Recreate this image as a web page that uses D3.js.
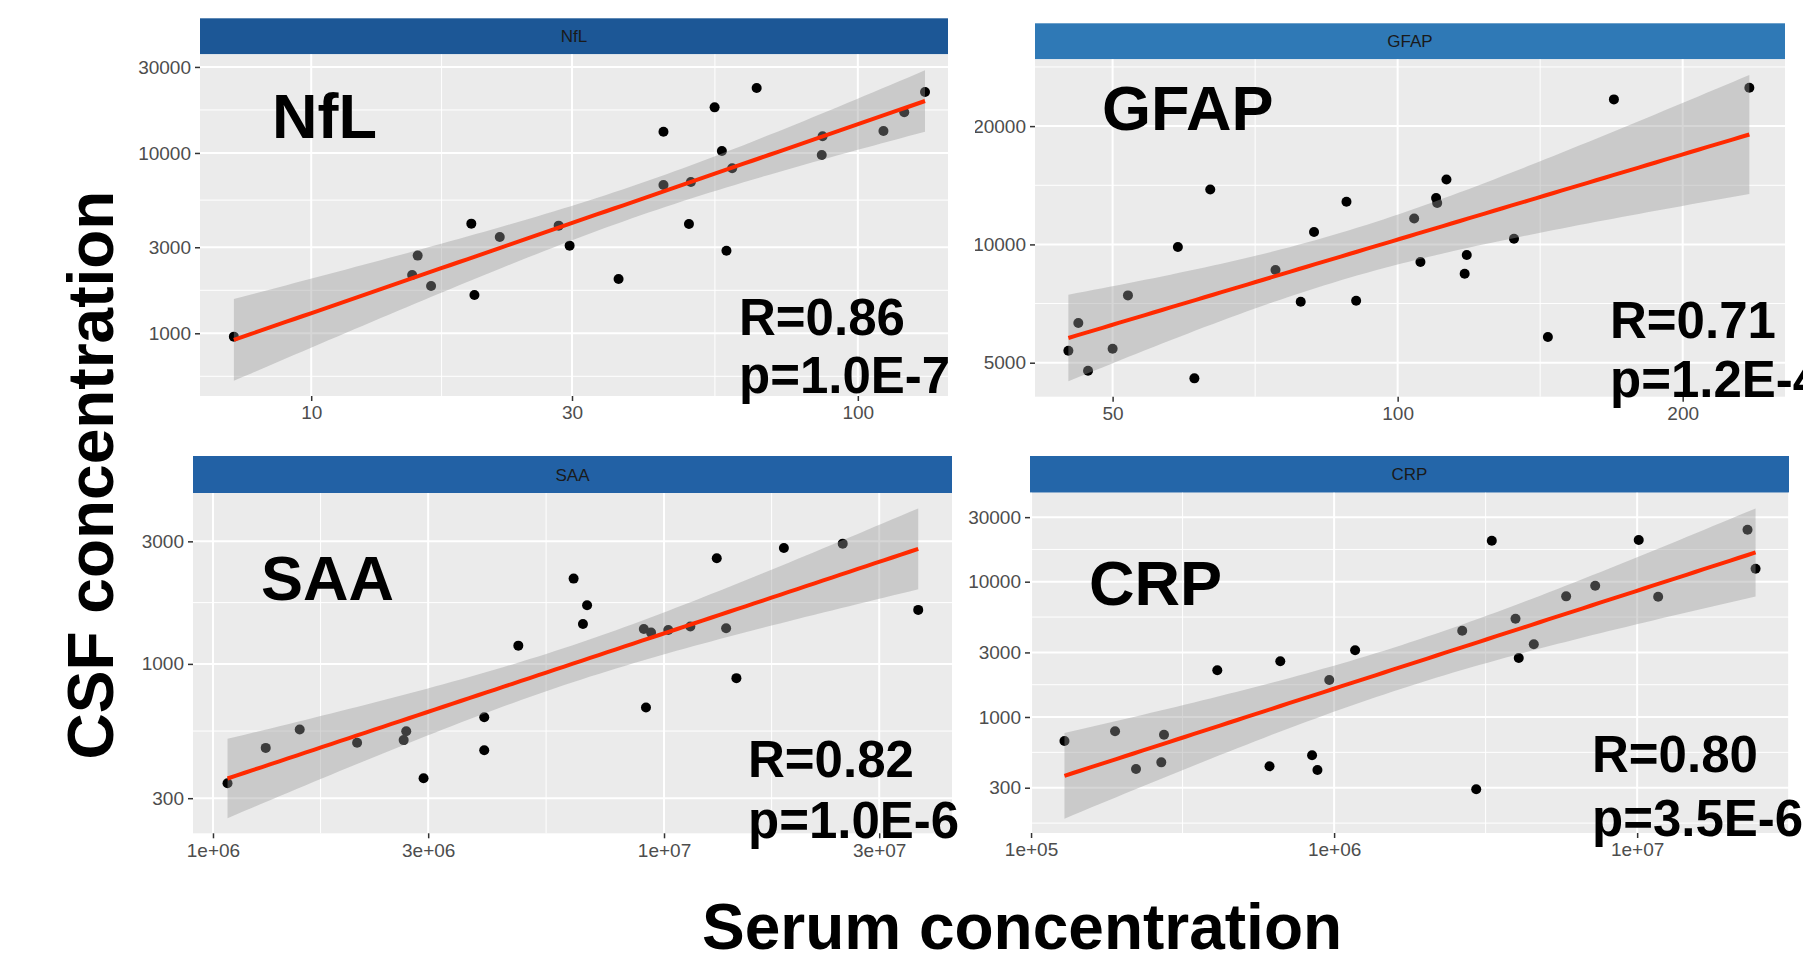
<!DOCTYPE html>
<html>
<head>
<meta charset="utf-8">
<script src="https://cdn.jsdelivr.net/npm/d3@7"></script>
<style>
  body { margin: 0; background: #fff; }
  svg { display: block; font-family: "Liberation Sans", Arial, sans-serif; }
  .axis path { display: none; }
  .axis line { stroke: #333; stroke-width: 1.5; }
  .axis text { fill: #4d4d4d; font-size: 19px; }
</style>
</head>
<body>
<svg id="chart" width="1803" height="961"></svg>
<script>
// NfL: serum vs CSF
const nflSerum = [7.22, 15.3, 15.66, 16.57, 19.63, 19.89, 22.13, 28.36, 29.7, 36.5, 44.1, 44.1,
  49.1, 49.5, 54.7, 56.4, 57.5, 58.9, 65.3, 85.9, 86.2, 111.4, 121.6, 132.7];
const nflCsf = [958, 2105, 2696, 1830, 4055, 1632, 3420, 3954, 3062, 2000, 13120, 6646,
  4038, 6900, 17900, 10250, 2870, 8220, 22900, 9750, 12370, 13250, 16810, 21800];
const nflXTicks = [10, 30, 100];
const nflYTicks = [1000, 3000, 10000, 30000];
const nflXRange = [6.26, 146.2];
const nflYRange = [449, 35250];

// GFAP
const gfapSerum = [44.9, 46.0, 47.1, 50.0, 51.9, 58.6, 61.0, 63.4, 74.3, 79.0, 81.6, 88.3,
  90.4, 104.1, 105.7, 109.8, 110.1, 112.6, 117.7, 118.3, 132.7, 144.1, 169.2, 235.2];
const gfapCsf = [5364, 6307, 4771, 5428, 7418, 9845, 4562, 13800, 8604, 7147, 10750, 12840,
  7190, 11645, 9017, 13120, 12740, 14630, 8420, 9395, 10340, 5811, 23390, 25035];
const gfapXTicks = [50, 100, 200];
const gfapYTicks = [5000, 10000, 20000];
const gfapXRange = [41.4, 256.5];
const gfapYRange = [4097, 29585];

// SAA
const saaSerum = [1.077e6, 1.309e6, 1.557e6, 2.087e6, 2.647e6, 2.682e6, 2.930e6, 3.994e6, 3.994e6,
  4.753e6, 6.303e6, 6.611e6, 6.752e6, 9.02e6, 9.12e6, 9.36e6, 1.022e7, 1.144e7, 1.309e7,
  1.373e7, 1.447e7, 1.844e7, 2.490e7, 3.661e7];
const saaCsf = [343, 471, 555, 493, 505, 547, 359, 620, 461, 1178, 2148, 1431, 1692, 1368, 676,
  1324, 1356, 1398, 2578, 1377, 880, 2828, 2939, 1623];
const saaXTicks = [1e6, 3e6, 1e7, 3e7];
const saaXLabels = ["1e+06", "3e+06", "1e+07", "3e+07"];
const saaYTicks = [300, 1000, 3000];
const saaXRange = [9.03e5, 4.35e7];
const saaYRange = [219, 4628];

// CRP
const crpSerum = [1.289e5, 1.893e5, 2.220e5, 2.690e5, 2.746e5, 4.117e5, 6.122e5, 6.644e5, 8.458e5,
  8.81e5, 9.64e5, 1.173e6, 2.647e6, 2.944e6, 3.314e6, 3.968e6, 4.067e6, 4.56e6, 5.83e6,
  7.27e6, 1.012e7, 1.173e7, 2.313e7, 2.459e7];
const crpCsf = [665, 784, 413, 462, 740, 2212, 432, 2578, 521, 406, 1877, 3109, 4344, 292, 20090,
  5327, 2729, 3443, 7790, 9342, 20320, 7749, 24230, 12480];
const crpXTicks = [1e5, 1e6, 1e7];
const crpXLabels = ["1e+05", "1e+06", "1e+07"];
const crpYTicks = [300, 1000, 3000, 10000, 30000];
const crpXRange = [9.92e4, 3.17e7];
const crpYRange = [138.8, 45480];

const panels = [
  { name: "NfL", serum: nflSerum, csf: nflCsf, xTicks: nflXTicks, xLabels: nflXTicks.map(String),
    yTicks: nflYTicks, xRange: nflXRange, yRange: nflYRange, stats: ["R=0.86", "p=1.0E-7"],
    box: { left: 200, right: 948, top: 54.3, bottom: 396, strip: 36 }, strip: "#1c5796",
    title: [272, 138], statPos: [739, 335, 393] },
  { name: "GFAP", serum: gfapSerum, csf: gfapCsf, xTicks: gfapXTicks, xLabels: gfapXTicks.map(String),
    yTicks: gfapYTicks, xRange: gfapXRange, yRange: gfapYRange, stats: ["R=0.71", "p=1.2E-4"],
    box: { left: 1035, right: 1785, top: 59.3, bottom: 396.7, strip: 36 }, strip: "#2f79b6",
    title: [1102, 130], statPos: [1610, 338, 397], clipLeft: 975 },
  { name: "SAA", serum: saaSerum, csf: saaCsf, xTicks: saaXTicks, xLabels: saaXLabels,
    yTicks: saaYTicks, xRange: saaXRange, yRange: saaYRange, stats: ["R=0.82", "p=1.0E-6"],
    box: { left: 193, right: 952, top: 493, bottom: 833.3, strip: 37 }, strip: "#2261a5",
    title: [261, 600], statPos: [748, 777, 838] },
  { name: "CRP", serum: crpSerum, csf: crpCsf, xTicks: crpXTicks, xLabels: crpXLabels,
    yTicks: crpYTicks, xRange: crpXRange, yRange: crpYRange, stats: ["R=0.80", "p=3.5E-6"],
    box: { left: 1030, right: 1789, top: 492.7, bottom: 833, strip: 36.7 }, strip: "#2466a9",
    title: [1089, 605], statPos: [1592, 772, 836] }
];

const svg = d3.select("#chart");

// ggplot-style minor breaks: midpoints (in log space) between majors, extended one step
function minorBreaks(ticks, range) {
  let b = ticks.map(Math.log10);
  const lo = Math.log10(range[0]), hi = Math.log10(range[1]);
  const bd = b[1] - b[0];
  if (lo < b[0]) b = [b[0] - bd].concat(b);
  if (hi > b[b.length - 1]) b = b.concat([b[b.length - 1] + bd]);
  const out = [];
  for (let i = 0; i < b.length - 1; i++) {
    const m = (b[i] + b[i + 1]) / 2;
    if (m > lo && m < hi) out.push(Math.pow(10, m));
  }
  return out;
}

// lm fit on log-log data with 95% confidence band (like geom_smooth(method = "lm"))
function lmBand(xs, ys, steps) {
  const lx = xs.map(Math.log10), ly = ys.map(Math.log10);
  const n = lx.length;
  const mx = d3.mean(lx), my = d3.mean(ly);
  const sxx = d3.sum(lx, x => (x - mx) ** 2);
  const sxy = d3.sum(lx, (x, i) => (x - mx) * (ly[i] - my));
  const b = sxy / sxx, a = my - b * mx;
  const s = Math.sqrt(d3.sum(lx, (x, i) => (ly[i] - a - b * x) ** 2) / (n - 2));
  const t = 2.0739; // qt(0.975, 22)
  const [x0, x1] = d3.extent(lx);
  return d3.range(steps + 1).map(i => {
    const x = x0 + (x1 - x0) * i / steps;
    const fit = a + b * x;
    const se = s * Math.sqrt(1 / n + (x - mx) ** 2 / sxx);
    return { x: 10 ** x, y: 10 ** fit, lo: 10 ** (fit - t * se), hi: 10 ** (fit + t * se) };
  });
}

svg.append("defs").selectAll("clipPath")
  .data(panels.filter(p => p.clipLeft))
  .enter().append("clipPath")
  .attr("id", p => "clip-" + p.name)
  .append("rect")
  .attr("x", p => p.clipLeft).attr("y", 0)
  .attr("width", 1803).attr("height", 961);

panels.forEach(p => {
  const bx = p.box;
  const g = svg.append("g");
  if (p.clipLeft) g.attr("clip-path", "url(#clip-" + p.name + ")");

  const x = d3.scaleLog().domain(p.xRange).range([bx.left, bx.right]);
  const y = d3.scaleLog().domain(p.yRange).range([bx.bottom, bx.top]);

  // strip
  g.append("rect")
    .attr("x", bx.left).attr("y", bx.top - bx.strip)
    .attr("width", bx.right - bx.left).attr("height", bx.strip)
    .attr("fill", p.strip);
  g.append("text")
    .attr("x", (bx.left + bx.right) / 2).attr("y", bx.top - bx.strip / 2 + 6)
    .attr("text-anchor", "middle")
    .attr("font-size", 17).attr("fill", "#1a1a1a")
    .text(p.name);

  // panel background + grid
  g.append("rect")
    .attr("x", bx.left).attr("y", bx.top)
    .attr("width", bx.right - bx.left).attr("height", bx.bottom - bx.top)
    .attr("fill", "#ebebeb");

  const grid = g.append("g").attr("stroke", "#fff");
  grid.selectAll(".ymin").data(minorBreaks(p.yTicks, p.yRange)).enter().append("line")
    .attr("x1", bx.left).attr("x2", bx.right)
    .attr("y1", d => y(d)).attr("y2", d => y(d)).attr("stroke-width", 1);
  grid.selectAll(".xmin").data(minorBreaks(p.xTicks, p.xRange)).enter().append("line")
    .attr("y1", bx.top).attr("y2", bx.bottom)
    .attr("x1", d => x(d)).attr("x2", d => x(d)).attr("stroke-width", 1);
  grid.selectAll(".ymaj").data(p.yTicks).enter().append("line")
    .attr("x1", bx.left).attr("x2", bx.right)
    .attr("y1", d => y(d)).attr("y2", d => y(d)).attr("stroke-width", 2);
  grid.selectAll(".xmaj").data(p.xTicks).enter().append("line")
    .attr("y1", bx.top).attr("y2", bx.bottom)
    .attr("x1", d => x(d)).attr("x2", d => x(d)).attr("stroke-width", 2);

  // axes
  g.append("g")
    .attr("class", "axis")
    .attr("transform", "translate(" + bx.left + ",0)")
    .call(d3.axisLeft(y).tickValues(p.yTicks).tickFormat(d => String(d)).tickSize(5).tickPadding(4));
  g.append("g")
    .attr("class", "axis")
    .attr("transform", "translate(0," + bx.bottom + ")")
    .call(d3.axisBottom(x).tickValues(p.xTicks)
      .tickFormat((d, i) => p.xLabels[i]).tickSize(5).tickPadding(5));

  // points
  g.selectAll(".dot")
    .data(p.serum.map((s, i) => [s, p.csf[i]]))
    .enter().append("circle")
    .attr("cx", d => x(d[0]))
    .attr("cy", d => y(d[1]))
    .attr("r", 5)
    .attr("fill", "#000");

  // smoother
  const band = lmBand(p.serum, p.csf, 80);
  g.append("path")
    .datum(band)
    .attr("fill", "#999999").attr("fill-opacity", 0.4)
    .attr("d", d3.area().x(d => x(d.x)).y0(d => y(d.lo)).y1(d => y(d.hi)));
  g.append("path")
    .datum(band)
    .attr("fill", "none").attr("stroke", "#ff2a00").attr("stroke-width", 4)
    .attr("d", d3.line().x(d => x(d.x)).y(d => y(d.y)));

  // big labels
  g.append("text")
    .attr("x", p.title[0]).attr("y", p.title[1])
    .attr("font-size", 63).attr("font-weight", "bold")
    .text(p.name);
  g.selectAll(".stat")
    .data(p.stats)
    .enter().append("text")
    .attr("x", p.statPos[0]).attr("y", (d, i) => p.statPos[i + 1])
    .attr("font-size", 51).attr("font-weight", "bold")
    .text(d => d);
});

// shared axis titles
svg.append("text")
  .attr("transform", "translate(113,475) rotate(-90)")
  .attr("text-anchor", "middle")
  .attr("font-size", 64).attr("font-weight", "bold")
  .text("CSF concentration");

svg.append("text")
  .attr("x", 1022).attr("y", 949)
  .attr("text-anchor", "middle")
  .attr("font-size", 64).attr("font-weight", "bold")
  .text("Serum concentration");
</script>
</body>
</html>
